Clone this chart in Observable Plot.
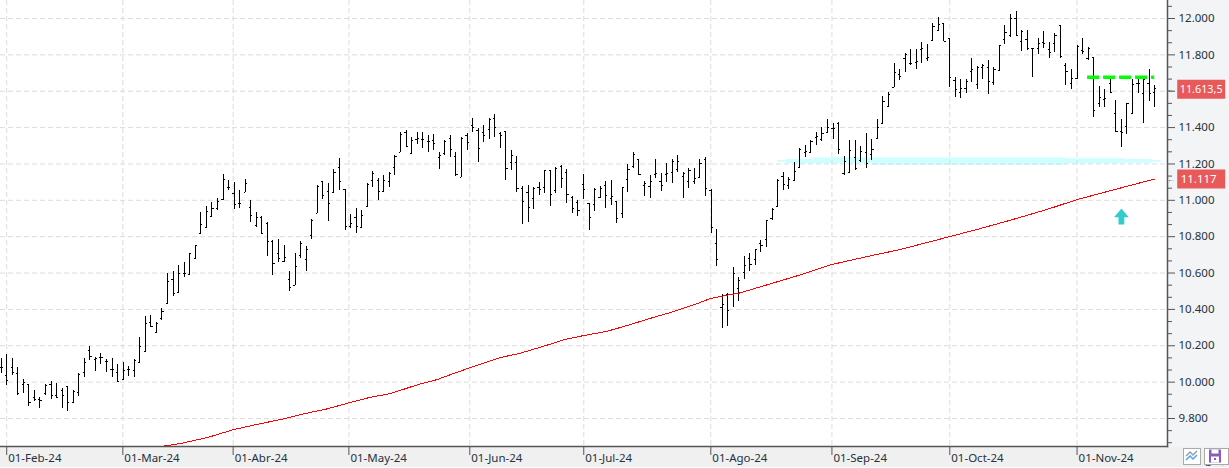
<!DOCTYPE html>
<html>
<head>
<meta charset="utf-8">
<script src="https://cdn.jsdelivr.net/npm/d3@7"></script>
<script src="https://cdn.jsdelivr.net/npm/@observablehq/plot@0.6"></script>
<style>
html,body{margin:0;padding:0;background:#fff;overflow:hidden}
#wrap{position:relative;width:1229px;height:468px;overflow:hidden}
#sidePanel{position:absolute;left:1167px;top:0;width:62px;height:447px;background:#f2f4f6}
#bottomPanel{position:absolute;left:0;top:447px;width:1229px;height:19.5px;background:#f0f0f0}
#chart{position:absolute;left:0;top:0}
#icons{position:absolute;left:0;top:0}
</style>
</head>
<body>
<div id="wrap"><div id="sidePanel"></div><div id="bottomPanel"></div><div id="chart"></div>
<svg id="icons" width="1229" height="468">
  <rect x="1183.5" y="448.5" width="17" height="16" fill="#fff" stroke="#aaa"/>
  <path d="M1186 456l4-4 3 3 4-4" fill="none" stroke="#8aa0b5" stroke-width="1.5"/>
  <path d="M1186 460l4-4 3 3 4-4" fill="none" stroke="#5aa0e0" stroke-width="1.5"/>
  <rect x="1204.5" y="448.5" width="24" height="16" fill="#fff" stroke="#aaa"/>
  <rect x="1209" y="449.5" width="12" height="13" fill="#8a5cc0"/>
  <rect x="1211.5" y="449.5" width="7" height="4" fill="#fff"/>
  <rect x="1211" y="456.5" width="8" height="6" fill="#fff"/>
  <rect x="1214" y="458" width="2" height="2" fill="#8a5cc0"/>
</svg>
</div>
<script>
const high = [
10130,10152,10130,10079,10013,9985,9954,9917,9987,10003,
9991,9963,9976,9954,10046,10130,10196,10135,10156,10124,
10128,10095,10108,10086,10123,10244,10361,10365,10330,10403,
10596,10608,10641,10656,10709,10750,10931,10964,10986,11008,
11140,11109,11096,11054,11113,10999,10931,10911,10876,10779,
10783,10750,10607,10706,10775,10746,10893,11080,11103,11091,
11168,11228,11058,10920,10953,10944,11091,11158,11118,11136,
11155,11246,11375,11384,11344,11371,11371,11356,11360,11261,
11329,11356,11261,11347,11366,11448,11397,11411,11448,11472,
11371,11378,11274,11241,11076,11081,11069,11096,11164,11164,
11179,11190,11168,11021,10999,11142,10981,11063,11076,11103,
11109,10993,11069,11195,11261,11223,11102,11135,11223,11146,
11201,11223,11245,11155,11173,11173,11223,11234,11058,10839,
10482,10489,10629,10577,10691,10709,10729,10779,10889,10957,
11113,11155,11125,11208,11285,11301,11329,11375,11402,11444,
11424,11428,11241,11329,11329,11296,11369,11334,11444,11571,
11595,11751,11719,11806,11828,11829,11866,11857,11974,12004,
11971,11892,11674,11663,11666,11778,11736,11745,11769,11732,
11851,11960,12022,12038,11934,11934,11835,11888,11928,11866,
11916,11961,11751,11719,11851,11888,11842,11787,11626,11608,
11668,11549,11443,11534,11665,11665,11665,11719,11631];
const low = [
10050,9981,10035,9928,9939,9866,9894,9857,9926,9906,
9912,9857,9840,9884,9923,10027,10119,10058,10097,10053,
10025,10000,10009,10033,10027,10104,10165,10302,10269,10339,
10427,10473,10489,10574,10586,10676,10816,10847,10907,10944,
10999,11054,10949,10953,11041,10880,10852,10810,10693,10588,
10660,10660,10500,10530,10682,10608,10783,10926,11003,10885,
11036,11054,10834,10847,10819,10847,10959,11072,10999,11045,
11072,11136,11261,11292,11250,11307,11287,11265,11274,11168,
11246,11237,11131,11124,11274,11375,11210,11320,11333,11347,
11287,11109,11164,11043,10867,10878,10949,11026,11039,10966,
11039,11065,10984,10929,10911,11003,10834,10938,11012,10957,
10971,10872,10900,11043,11177,11138,11021,11010,11120,11048,
11100,11092,11151,11010,11065,11089,11122,11021,10819,10638,
10297,10306,10412,10443,10566,10608,10643,10713,10740,10889,
10962,11054,11061,11103,11173,11237,11256,11301,11325,11366,
11334,11252,11138,11149,11164,11206,11177,11219,11334,11421,
11509,11619,11659,11705,11741,11719,11754,11763,11875,11930,
11875,11619,11567,11562,11589,11650,11608,11666,11584,11633,
11710,11859,11897,11903,11820,11824,11677,11802,11837,11782,
11811,11782,11633,11611,11666,11802,11769,11457,11512,11512,
11589,11375,11292,11364,11476,11589,11424,11545,11512];
const open = [
10080,10036,10082,10049,9987,9985,9914,9903,9939,9987,
9925,9954,9976,9886,9945,10053,10174,10124,10134,10115,
10069,10051,10013,10068,10064,10110,10168,10330,10275,10348,
10434,10563,10491,10596,10592,10680,10819,10852,10913,10953,
11003,11072,11036,10981,11045,10962,10860,10907,10871,10772,
10706,10663,10563,10531,10696,10676,10806,10929,11102,11047,
11043,11179,11058,10856,10905,10852,10966,11107,11109,11047,
11103,11179,11265,11375,11256,11333,11333,11323,11329,11234,
11259,11338,11241,11125,11356,11411,11384,11375,11388,11448,
11369,11378,11206,11210,11063,11041,11008,11072,11069,11162,
11054,11188,11155,11014,10986,11085,10981,10975,11014,11080,
11008,10993,10926,11113,11188,11223,11080,11074,11140,11102,
11144,11151,11168,11129,11102,11103,11127,11224,11054,10761,
10409,10482,10482,10517,10601,10678,10674,10764,10783,10898,
10968,11131,11081,11109,11182,11265,11265,11344,11333,11375,
11393,11424,11146,11155,11237,11219,11261,11250,11338,11424,
11518,11622,11692,11778,11751,11760,11831,11778,11879,11934,
11971,11888,11659,11593,11613,11708,11635,11732,11729,11648,
11714,11883,11906,11998,11873,11883,11833,11833,11866,11828,
11864,11961,11741,11641,11668,11824,11778,11787,11531,11556,
11641,11476,11380,11406,11476,11641,11589,11641,11591];
const close = [
10080,10009,10053,9939,10000,9886,9903,9899,9981,9925,
9917,9925,9886,9950,10042,10108,10141,10128,10137,10112,
10069,10003,10062,10068,10119,10194,10321,10306,10324,10388,
10555,10489,10596,10599,10706,10750,10867,10940,10955,10993,
11113,11069,10975,10981,11091,10915,10907,10816,10772,10651,
10682,10685,10522,10636,10764,10729,10889,11076,11025,10981,
11155,11103,10856,10871,10856,10915,11085,11149,11048,11109,
11149,11241,11362,11298,11329,11338,11333,11325,11311,11246,
11325,11278,11144,11342,11320,11402,11283,11356,11443,11402,
11356,11173,11246,11063,10993,10959,11067,11058,11162,11030,
11173,11118,11030,10953,10944,11058,10907,11058,11067,11026,
11021,10898,11069,11168,11250,11140,11091,11103,11147,11083,
11146,11213,11213,11147,11166,11118,11201,11063,10852,10673,
10427,10392,10596,10559,10641,10649,10728,10751,10889,10948,
11109,11087,11113,11158,11281,11268,11325,11351,11366,11402,
11393,11279,11213,11274,11173,11270,11201,11278,11399,11543,
11580,11701,11681,11802,11751,11763,11837,11787,11956,11965,
11875,11674,11608,11617,11655,11718,11732,11741,11653,11718,
11851,11925,11998,11906,11928,11835,11837,11861,11861,11815,
11906,11793,11710,11668,11846,11820,11837,11492,11567,11558,
11595,11380,11375,11531,11637,11641,11663,11589,11613];

const maBar = [29.3,32.9,37.4,41.8,46.8,51,54.6,58.8,62.7,66.6,70.2,75,78.6,81,84.5,90,93.6,99.6,101.4,105,109.3,113.5,116.5,120.7,125.5,127.9,131.2,133,138.1,144.1,149.8,156.2,162.2,171.1,176.6,182.6,188.6,194,202,208];
const maVal = [9648,9666,9697,9738,9772,9798,9826,9853,9886,9917,9937,9985,10014,10041,10079,10135,10159,10214,10233,10256,10280,10317,10346,10383,10432,10460,10480,10489,10535,10590,10647,10691,10730,10801,10845,10896,10950,11004,11069,11117];

const zoneBar = [140,141.6,146.5,157.1,192,202.4,207.5,209.2];
const zoneTop = [11219,11224,11233,11233,11228,11224,11219,11219];
const zoneBot = [11210,11201,11201,11192,11201,11204,11210,11210];

const dateBar = [1,21.94,41.83,62.7,84.5,105.05,127.96,149.8,171.05,194];
const dateLabel = ["01-Feb-24","01-Mar-24","01-Abr-24","01-May-24","01-Jun-24","01-Jul-24","01-Ago-24","01-Sep-24","01-Oct-24","01-Nov-24"];
const priceTicks = [9800,10000,10200,10400,10600,10800,11000,11200,11400,11600,11800,12000];
const minorTicks = [9666.7,9733.3,9866.7,9933.3,10066.7,10133.3,10266.7,10333.3,10466.7,10533.3,10666.7,10733.3,10866.7,10933.3,11066.7,11133.3,11266.7,11333.3,11466.7,11533.3,11666.7,11733.3,11866.7,11933.3,12066.7];
const hiddenPriceLabel = 11600;
const targetLevel = 11677;
const targetStart = 195.9;
const lastPrice = 11613.5;
const lastAverage = 11117;
const arrowBar = 202;
const arrowPrice = 10911;

const bars = d3.range(high.length);
const ma = maBar.map((b,i)=>({b,v:maVal[i]}));
const zone = zoneBar.map((b,i)=>({b,t:zoneTop[i],d:zoneBot[i]}));
const loc = d3.formatLocale({decimal:",",thousands:".",grouping:[3]});
const fmt0 = loc.format(",");
const fmt1 = loc.format(",.1f");
const labelAt = new Map(dateBar.map((b,i)=>[b,dateLabel[i]]));
const font = "'Noto Sans', sans-serif";
const textCol = "#26323e";
const gridCol = "#dcdcdc";
const dash = "5 3";
const badgeL = 212.15, badgeR = 220.8, badgeRed = "#e85a5a";

const upArrow = {draw(ctx,size){
  const r = Math.sqrt(size/Math.PI);
  ctx.moveTo(0,-r);
  ctx.lineTo(0.92*r,0.1*r);
  ctx.lineTo(0.36*r,0.1*r);
  ctx.lineTo(0.36*r,r);
  ctx.lineTo(-0.36*r,r);
  ctx.lineTo(-0.36*r,0.1*r);
  ctx.lineTo(-0.92*r,0.1*r);
  ctx.closePath();
}};

const plot = Plot.plot({
  width:1229, height:468,
  marginLeft:0, marginTop:0, marginRight:62, marginBottom:22,
  style:{background:"transparent",fontFamily:font,fontSize:"11.5px",color:textCol},
  x:{type:"linear",domain:[0,208],range:[0.67,1154.2],axis:null},
  y:{type:"linear",domain:[9646,12099],range:[446,0],axis:null},
  marks:[
    Plot.areaY(zone,{x:"b",y1:"t",y2:"d",fill:"#ccffff",curve:"step-after"}),
    Plot.gridY(priceTicks,{stroke:gridCol,strokeOpacity:1,strokeDasharray:dash,strokeWidth:1}),
    Plot.gridX(dateBar,{stroke:gridCol,strokeOpacity:1,strokeDasharray:dash,strokeWidth:1}),
    Plot.ruleX(bars,{x:d=>d,y1:i=>low[i],y2:i=>high[i],stroke:"#000",strokeWidth:1,shapeRendering:"crispEdges"}),
    Plot.link(bars,{x1:i=>i-0.3,x2:i=>i,y1:i=>open[i],y2:i=>open[i],stroke:"#000",strokeWidth:1,shapeRendering:"crispEdges"}),
    Plot.link(bars,{x1:i=>i,x2:i=>i+0.3,y1:i=>close[i],y2:i=>close[i],stroke:"#000",strokeWidth:1,shapeRendering:"crispEdges"}),
    Plot.line(ma,{x:"b",y:"v",stroke:"#ff0000",strokeWidth:1,shapeRendering:"crispEdges"}),
    Plot.ruleY([targetLevel],{x1:targetStart,x2:208,stroke:"#00ff00",strokeWidth:3.6,strokeDasharray:"12 4"}),
    Plot.dot([arrowPrice],{x:arrowBar,y:d=>d,r:8,symbol:upArrow,fill:"#33cccc",stroke:"none"}),
    Plot.frame({anchor:"right",stroke:"#555",strokeWidth:1.5}),
    Plot.frame({anchor:"bottom",stroke:"#555",strokeWidth:1.5}),
    Plot.axisY(minorTicks,{anchor:"right",tickSize:4,stroke:"#555",tickFormat:()=>""}),
    Plot.axisY(priceTicks,{anchor:"right",tickSize:7,stroke:"#555",tickPadding:4,tickFormat:d=>d===hiddenPriceLabel?"":fmt0(d),fill:textCol,label:null}),
    Plot.axisX(dateBar,{anchor:"bottom",tickSize:9,stroke:"#555",tickFormat:()=>""}),
    Plot.axisX(dateBar,{anchor:"bottom",tickSize:0,tickPadding:7,dx:1.5,textAnchor:"start",tickFormat:d=>labelAt.get(d),fill:textCol,label:null}),
    Plot.ruleY([lastPrice-2],{x1:badgeL,x2:badgeR,stroke:badgeRed,strokeWidth:19}),
    Plot.ruleY([lastAverage],{x1:badgeL,x2:badgeR,stroke:badgeRed,strokeWidth:19}),
    Plot.text([lastPrice-2],{x:badgeL,dx:2,y:d=>d,text:()=>fmt1(lastPrice),textAnchor:"start",fill:"#fff",fontSize:10.8}),
    Plot.text([lastAverage],{x:badgeL,dx:3,y:d=>d,text:()=>fmt0(lastAverage),textAnchor:"start",fill:"#fff"}),
    Plot.text([lastPrice-2,lastAverage],{x:210.9,y:d=>d,text:()=>"←",fill:"#555",fontSize:8})
  ]
});
document.getElementById("chart").appendChild(plot);
</script>
</body>
</html>
